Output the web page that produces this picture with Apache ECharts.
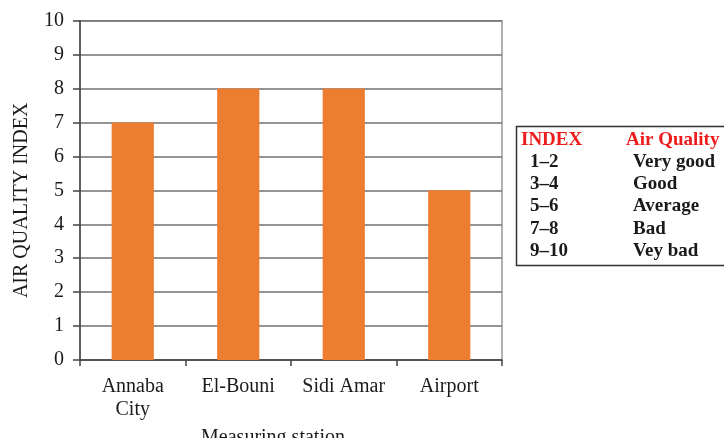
<!DOCTYPE html>
<html>
<head>
<meta charset="utf-8">
<script src="https://cdn.jsdelivr.net/npm/echarts@6/dist/echarts.min.js"></script>
<style>
  html, body { margin: 0; padding: 0; background: #fff; }
  #chart { width: 724px; height: 438px; }
</style>
</head>
<body>
<div id="chart"></div>
<script>
// 数据
var stations = ['Annaba\nCity', 'El-Bouni', 'Sidi Amar', 'Airport'];
var aqiValues = [7, 8, 8, 5];
var yTicks = [0, 1, 2, 3, 4, 5, 6, 7, 8, 9, 10];
// 图例表格
var indexRanges = ['1–2', '3–4', '5–6', '7–8', '9–10'];
var qualityLabels = ['Very good', 'Good', 'Average', 'Bad', 'Vey bad'];

var serif = '"Liberation Serif", "Times New Roman", serif';

// 右侧表格
var tableGraphics = [
  {
    type: 'rect',
    shape: { x: 516.5, y: 126.5, width: 230, height: 139 },
    style: { fill: '#fff', stroke: '#333', lineWidth: 1.5 }
  },
  {
    type: 'text', x: 521, y: 140,
    style: { text: 'INDEX', fill: '#ee1c1c', font: 'bold 19px ' + serif, verticalAlign: 'middle' }
  },
  {
    type: 'text', x: 626, y: 140,
    style: { text: 'Air Quality', fill: '#ee1c1c', font: 'bold 19px ' + serif, verticalAlign: 'middle' }
  }
];
indexRanges.forEach(function (r, i) {
  var y = 162 + i * 22.2;
  tableGraphics.push({
    type: 'text', x: 530, y: y,
    style: { text: r, fill: '#1a1a1a', font: 'bold 19px ' + serif, verticalAlign: 'middle' }
  });
  tableGraphics.push({
    type: 'text', x: 633, y: y,
    style: { text: qualityLabels[i], fill: '#1a1a1a', font: 'bold 19px ' + serif, verticalAlign: 'middle' }
  });
});

var myChart = echarts.init(document.getElementById('chart'));
var option = {
  animation: false,
  backgroundColor: '#fff',
  grid: {
    left: 80, right: 222, top: 20.7, bottom: 78,
    outerBoundsMode: 'none',
    containLabel: false,
    show: true, borderColor: '#999', borderWidth: 1.5
  },
  xAxis: {
    type: 'category',
    data: stations,
    name: 'Measuring station',
    nameLocation: 'middle',
    nameGap: 68,
    nameTextStyle: { fontFamily: serif, fontSize: 20, color: '#1a1a1a', padding: [0, 36, 0, 0] },
    axisLine: { lineStyle: { color: '#444', width: 1.5 } },
    axisTick: { show: true, alignWithLabel: false, length: 6, lineStyle: { color: '#444', width: 1.5 } },
    axisLabel: { interval: 0, fontFamily: serif, fontSize: 20, color: '#1a1a1a', margin: 15, lineHeight: 23 }
  },
  yAxis: {
    type: 'value',
    min: yTicks[0],
    max: yTicks[yTicks.length - 1],
    interval: 1,
    name: 'AIR QUALITY INDEX',
    nameLocation: 'middle',
    nameGap: 48,
    nameRotate: 90,
    nameTextStyle: { fontFamily: serif, fontSize: 20, color: '#1a1a1a', padding: [0, 0, 0, -20] },
    axisLine: { show: true, lineStyle: { color: '#444', width: 1.5 } },
    axisTick: { show: true, length: 7, lineStyle: { color: '#444', width: 1.5 } },
    axisLabel: { fontFamily: serif, fontSize: 20, color: '#1a1a1a', margin: 16 },
    splitLine: { lineStyle: { color: '#707070', width: 1.5 } }
  },
  series: [
    {
      type: 'bar',
      data: aqiValues,
      barWidth: '40%',
      itemStyle: { color: '#ed7d31' }
    }
  ],
  graphic: tableGraphics
};
myChart.setOption(option);
</script>
</body>
</html>
